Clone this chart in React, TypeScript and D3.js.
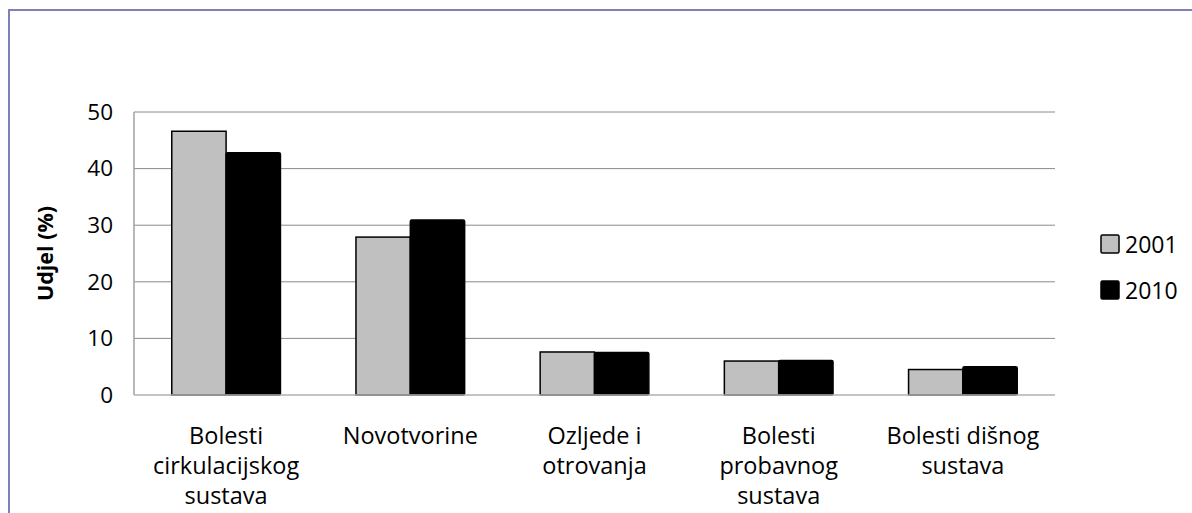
import React from 'react';
import * as d3 from 'd3';

const categories = [
  ['Bolesti', 'cirkulacijskog', 'sustava'],
  ['Novotvorine'],
  ['Ozljede i', 'otrovanja'],
  ['Bolesti', 'probavnog', 'sustava'],
  ['Bolesti dišnog', 'sustava'],
];
const seriesNames = ['2001', '2010'];
const values2001 = [46.6, 27.9, 7.6, 6.0, 4.5];
const values2010 = [42.8, 30.9, 7.5, 6.1, 5.0];
const yTicks = [0, 10, 20, 30, 40, 50];
const colors = ['#c0c0c0', '#000000'];

const W = 1192;
const H = 513;
const plot = { left: 134, right: 1055, top: 112, bottom: 395 };
const font = "'Open Sans', sans-serif";

const App = () => {
  const keys = categories.map((c) => c.join(' '));
  const x0 = d3.scaleBand()
    .domain(keys)
    .range([plot.left, plot.right])
    .paddingInner(0.41)
    .paddingOuter(0.205);
  const x1 = d3.scaleBand()
    .domain(seriesNames)
    .range([0, x0.bandwidth()]);
  const y = d3.scaleLinear().domain([0, 50]).range([plot.bottom, plot.top]);

  const series = [values2001, values2010];

  return (
    <svg width={W} height={H} style={{ position: 'absolute', left: 0, top: 0, background: '#fff' }}>
      {/* outer frame */}
      <rect x={9} y={10} width={W + 20} height={H + 20} fill="#fff" stroke="#8080b8" strokeWidth={2} />

      {/* gridlines */}
      {yTicks.filter((t) => t > 0).map((t) => (
        <line key={t} x1={plot.left} x2={plot.right} y1={y(t)} y2={y(t)} stroke="#8a8a8a" strokeWidth={1} />
      ))}

      {/* bars */}
      {series.map((vals, si) => vals.map((v, ci) => (
        <rect
          key={`${si}-${ci}`}
          x={x0(keys[ci])! + x1(seriesNames[si])!}
          y={y(v)}
          width={x1.bandwidth()}
          height={y(0) - y(v)}
          fill={colors[si]}
          stroke="#000"
          strokeWidth={1.5}
          rx={si === 1 ? 1.5 : 0}
        />
      )))}

      {/* axes */}
      <line x1={plot.left} x2={plot.left} y1={plot.top} y2={plot.bottom} stroke="#a0a0a0" strokeWidth={1.5} />
      <line x1={plot.left} x2={plot.right} y1={plot.bottom} y2={plot.bottom} stroke="#b0b0b0" strokeWidth={1.5} />

      {/* y tick labels */}
      {yTicks.map((t) => (
        <text key={t} x={113} y={y(t)} dy="0.35em" textAnchor="end" fontFamily={font} fontSize={22.5} fill="#000">
          {t}
        </text>
      ))}

      {/* y axis title */}
      <text
        transform={`translate(53,${(plot.top + plot.bottom) / 2}) rotate(-90)`}
        textAnchor="middle"
        fontFamily={font}
        fontSize={21.5}
        fontWeight="bold"
        fill="#000"
      >
        Udjel (%)
      </text>

      {/* category labels */}
      {categories.map((lines, ci) => (
        <text key={ci} textAnchor="middle" fontFamily={font} fontSize={23.5} fill="#000">
          {lines.map((ln, li) => (
            <tspan key={li} x={x0(keys[ci])! + x0.bandwidth() / 2} y={444 + li * 30}>{ln}</tspan>
          ))}
        </text>
      ))}

      {/* legend */}
      {seriesNames.map((s, i) => (
        <g key={s} transform={`translate(1101,${235 + i * 46})`}>
          <rect x={0} y={0} width={18} height={18} fill={colors[i]} stroke="#000" strokeWidth={1.5} rx={1.5} />
          <text x={24} y={18} fontFamily={font} fontSize={23} fill="#000">{s}</text>
        </g>
      ))}
    </svg>
  );
};

export default App;
